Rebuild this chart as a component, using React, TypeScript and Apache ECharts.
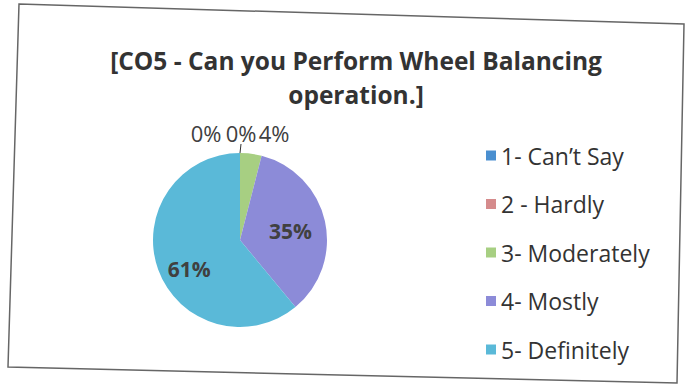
import React, { useEffect, useRef } from "react";
import * as echarts from "echarts";

const titleLines = ["[CO5 - Can you Perform Wheel Balancing", "operation.]"];
const categories = ["1- Can\u2019t Say", "2 - Hardly", "3- Moderately", "4- Mostly", "5- Definitely"];
const percents = [0, 0, 4, 35, 61];
const sliceColors = ["#4a8fd0", "#d58b8c", "#a7cf82", "#8c8bd8", "#5ab9d8"];

const FONT = "'Open Sans', Lato, sans-serif";
const PIE_CX = 240;
const PIE_CY = 240;
const PIE_R = 87;

export default function App() {
  const ref = useRef<HTMLDivElement>(null);

  useEffect(() => {
    if (!ref.current) return;
    const chart = echarts.init(ref.current, null, { renderer: "svg" });
    const topDx = [-34, 1, 34];

    const option: any = {
      animation: false,
      backgroundColor: "#ffffff",
      legend: {
        orient: "vertical",
        left: 481,
        top: 139,
        icon: "rect",
        itemWidth: 10,
        itemHeight: 10,
        itemGap: 25.5,
        data: categories,
        textStyle: {
          fontFamily: FONT,
          fontSize: 23,
          lineHeight: 20,
          color: "#333333",
        },
      },
      graphic: [
        {
          type: "polygon",
          shape: {
            points: [
              [19, 4],
              [684, 24],
              [677, 383],
              [8, 367],
            ],
          },
          style: { fill: "none", stroke: "#666666", lineWidth: 1.5 },
          silent: true,
        },
        {
          type: "text",
          x: 356,
          y: 77,
          silent: true,
          style: {
            text: titleLines.join("\n"),
            align: "center",
            verticalAlign: "middle",
            fontFamily: FONT,
            fontSize: 24.5,
            fontWeight: "bold",
            lineHeight: 34,
            fill: "#333333",
          },
        },
      ],
      series: [
        {
          type: "pie",
          center: [PIE_CX, PIE_CY],
          radius: PIE_R,
          startAngle: 90,
          clockwise: true,
          avoidLabelOverlap: false,
          color: sliceColors,
          label: {
            show: true,
            fontFamily: FONT,
            fontSize: 22,
            color: "#404040",
            formatter: (p: any) => p.value + "%",
          },
          labelLine: { show: false },
          labelLayout: (p: any) => {
            const i = p.dataIndex;
            if (i < 3) {
              return {
                x: PIE_CX + topDx[i],
                y: PIE_CY - 107,
                align: "center",
                verticalAlign: "middle",
              };
            }
            if (i === 3) return { dx: 5, dy: 1 };
            return { dx: -7, dy: 13 };
          },
          data: categories.map((name, i) => ({
            name,
            value: percents[i],
            label:
              i >= 3
                ? { position: "inside", fontWeight: "bold", fontSize: 21, color: "#404040" }
                : { position: "outside" },
            labelLine:
              i === 1
                ? { show: true, length: 6, length2: 0, lineStyle: { color: "#333", width: 1 } }
                : { show: false },
          })),
        },
      ],
    };

    chart.setOption(option);
    return () => chart.dispose();
  }, []);

  return (
    <div
      ref={ref}
      style={{ position: "fixed", left: 0, top: 0, width: 686, height: 387 }}
    />
  );
}
